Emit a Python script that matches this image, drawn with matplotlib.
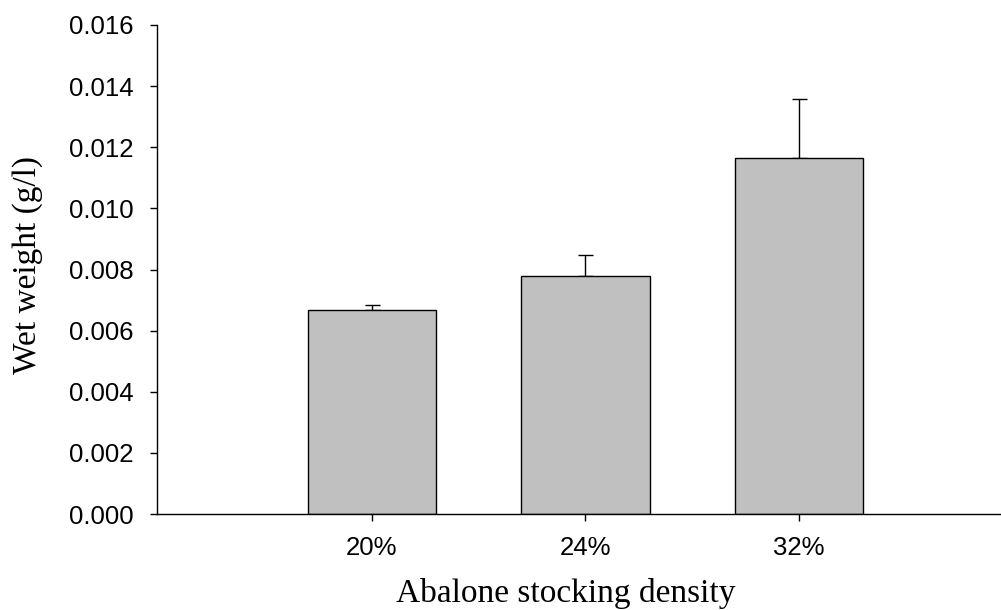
import numpy as np
import matplotlib
matplotlib.use("Agg")
import matplotlib.pyplot as plt

densities = ["20%", "24%", "32%"]
wet_weight = [0.00668, 0.00779, 0.01165]
wet_weight_se = [0.00016, 0.00067, 0.00193]

fig = plt.figure(figsize=(10.01, 6.10), dpi=100)
ax = fig.add_axes([157 / 1001, 1 - 514 / 610, (1000 - 157) / 1001, (514 - 25) / 610])

pos = np.arange(1, len(densities) + 1)
ax.bar(pos, wet_weight, width=0.6, color="#c0c0c0", edgecolor="black", linewidth=1.0, zorder=2)
# one-sided (upper) error bars
ax.errorbar(pos, wet_weight, yerr=[np.zeros(len(pos)), wet_weight_se], fmt="none",
            ecolor="black", elinewidth=1.0, capsize=5.4, capthick=1.0, zorder=1)

ax.set_xlim(-0.005, 3.94)
ax.set_ylim(0, 0.016)
yt = np.arange(0, 0.0161, 0.002)
ax.set_yticks(yt)
ax.set_yticklabels([f"{v:.3f}" for v in yt])
ax.set_xticks(pos)
ax.set_xticklabels(densities)

for side in ("top", "right"):
    ax.spines[side].set_visible(False)
for side in ("left", "bottom"):
    ax.spines[side].set_linewidth(1.0)

ax.tick_params(axis="both", direction="out", length=5, width=1.0, labelsize=18.5)
ax.tick_params(axis="x", pad=11)
ax.tick_params(axis="y", pad=12)
for lbl in ax.get_xticklabels() + ax.get_yticklabels():
    lbl.set_fontfamily("Liberation Sans")

ax.set_xlabel("Abalone stocking density", fontfamily="Liberation Serif", fontsize=24)
ax.set_ylabel("Wet weight (g/l)", fontfamily="Liberation Serif", fontsize=24)
ax.xaxis.set_label_coords((566 - 157) / (1000 - 157), -0.131)
ax.yaxis.set_label_coords(-0.135, (514 - 265) / (514 - 25))

fig.savefig("out.png", dpi=100)
